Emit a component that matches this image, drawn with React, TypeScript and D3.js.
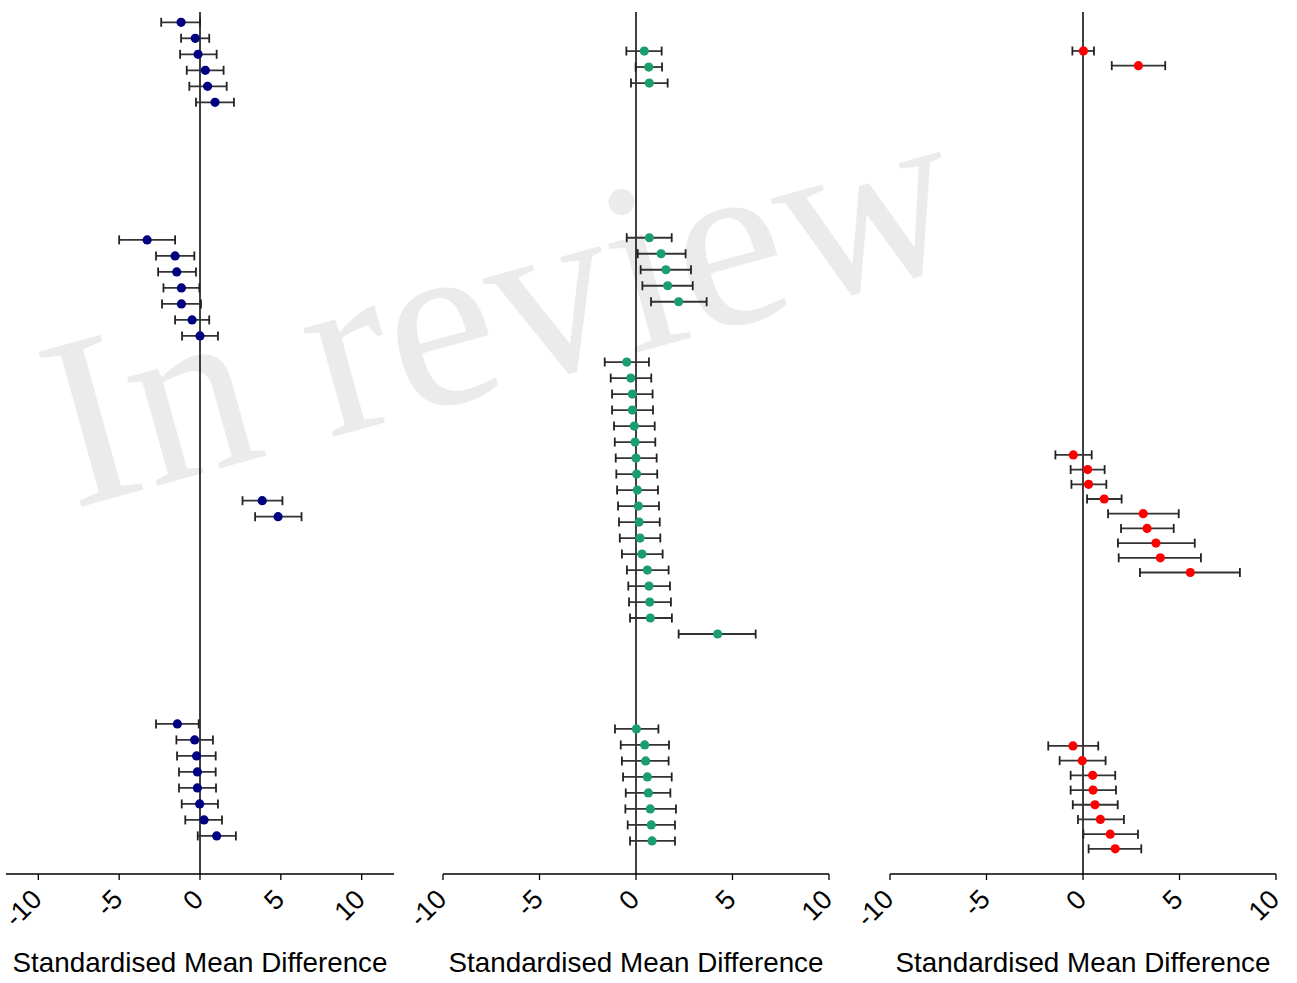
import * as d3 from 'd3';

const TICK_VALUES = [-10, -5, 0, 5, 10];
const TICK_LABELS = ['-10', '-5', '0', '5', '10'];
const AXIS_TITLE = 'Standardised Mean Difference';

// panel 1 (navy)
const navyRows = [0, 1, 2, 3, 4, 5, 13.6, 14.6, 15.6, 16.6, 17.6, 18.6, 19.6, 29.9, 30.9, 43.85, 44.85, 45.85, 46.85, 47.85, 48.85, 49.85, 50.85];
const navyEst = [-1.17, -0.29, -0.12, 0.33, 0.47, 0.93, -3.27, -1.54, -1.44, -1.15, -1.15, -0.49, 0.0, 3.85, 4.83, -1.4, -0.33, -0.21, -0.16, -0.16, -0.02, 0.25, 1.03];
const navyLo = [-2.4, -1.17, -1.23, -0.82, -0.66, -0.25, -5.0, -2.72, -2.59, -2.26, -2.35, -1.54, -1.11, 2.63, 3.41, -2.72, -1.46, -1.42, -1.3, -1.3, -1.13, -0.91, -0.14];
const navyHi = [0.0, 0.57, 1.03, 1.46, 1.65, 2.1, -1.54, -0.35, -0.25, -0.04, 0.06, 0.57, 1.11, 5.1, 6.28, -0.08, 0.8, 0.97, 0.97, 0.99, 1.11, 1.36, 2.22];

// panel 2 (green)
const greenRows = [0, 1, 2, 11.67, 12.67, 13.67, 14.67, 15.67, 19.44, 20.44, 21.44, 22.44, 23.44, 24.44, 25.44, 26.44, 27.44, 28.44, 29.44, 30.44, 31.44, 32.44, 33.44, 34.44, 35.44, 36.44, 42.375, 43.375, 44.375, 45.375, 46.375, 47.375, 48.375, 49.375];
const greenEst = [0.43, 0.66, 0.69, 0.69, 1.3, 1.55, 1.64, 2.21, -0.48, -0.27, -0.19, -0.19, -0.09, -0.05, 0.0, 0.03, 0.07, 0.12, 0.16, 0.21, 0.31, 0.59, 0.67, 0.71, 0.74, 4.23, 0.02, 0.45, 0.5, 0.59, 0.64, 0.74, 0.79, 0.83];
const greenLo = [-0.5, -0.02, -0.26, -0.48, 0.09, 0.24, 0.33, 0.78, -1.62, -1.31, -1.24, -1.24, -1.14, -1.1, -1.05, -1.02, -0.98, -0.93, -0.88, -0.84, -0.73, -0.47, -0.4, -0.36, -0.31, 2.21, -1.09, -0.79, -0.73, -0.67, -0.53, -0.55, -0.43, -0.31];
const greenHi = [1.33, 1.35, 1.64, 1.85, 2.57, 2.85, 2.94, 3.66, 0.67, 0.79, 0.86, 0.88, 0.97, 1.0, 1.07, 1.1, 1.14, 1.19, 1.23, 1.26, 1.38, 1.69, 1.76, 1.81, 1.86, 6.2, 1.16, 1.71, 1.69, 1.85, 1.78, 2.07, 2.02, 2.02];

// panel 3 (red)
const redRows = [0, 1, 27.48, 28.48, 29.48, 30.48, 31.48, 32.48, 33.48, 34.48, 35.48, 47.28, 48.28, 49.28, 50.28, 51.28, 52.28, 53.28, 54.28];
const redEst = [0.02, 2.87, -0.5, 0.24, 0.29, 1.1, 3.12, 3.32, 3.78, 4.01, 5.56, -0.52, -0.04, 0.5, 0.52, 0.62, 0.9, 1.41, 1.67];
const redLo = [-0.55, 1.49, -1.43, -0.64, -0.6, 0.21, 1.3, 1.97, 1.81, 1.85, 2.95, -1.8, -1.21, -0.64, -0.64, -0.53, -0.26, 0.02, 0.29];
const redHi = [0.57, 4.26, 0.45, 1.12, 1.21, 2.0, 4.96, 4.7, 5.79, 6.11, 8.13, 0.79, 1.17, 1.67, 1.71, 1.8, 2.12, 2.85, 3.02];

const TOP = 12;
const BASE = 874;
const FONT = 'Liberation Sans, Arial, Helvetica, sans-serif';

type PanelProps = {
  rows: number[];
  est: number[];
  lo: number[];
  hi: number[];
  color: string;
  xDomain: [number, number];
  xRange: [number, number];
  rowDomain: [number, number];
};

function Panel({ rows, est, lo, hi, color, xDomain, xRange, rowDomain }: PanelProps) {
  const x = d3.scaleLinear().domain(xDomain).range(xRange);
  const y = d3.scaleLinear().domain(rowDomain).range([TOP, BASE]);
  const cap = 4.5;

  return (
    <g>
      {/* zero line */}
      <line x1={x(0)} x2={x(0)} y1={TOP} y2={BASE} stroke="#000" strokeWidth={1.5} />

      {rows.map((r, i) => {
        const yy = y(r);
        return (
          <g key={i}>
            <line x1={x(lo[i])} x2={x(hi[i])} y1={yy} y2={yy} stroke="#333" strokeWidth={1.8} />
            <line x1={x(lo[i])} x2={x(lo[i])} y1={yy - cap} y2={yy + cap} stroke="#222" strokeWidth={1.8} />
            <line x1={x(hi[i])} x2={x(hi[i])} y1={yy - cap} y2={yy + cap} stroke="#222" strokeWidth={1.8} />
            <circle cx={x(est[i])} cy={yy} r={4.6} fill={color} />
          </g>
        );
      })}

      {/* x axis */}
      <line x1={xRange[0]} x2={xRange[1]} y1={BASE} y2={BASE} stroke="#000" strokeWidth={1.3} />
      {TICK_VALUES.map((t, i) => (
        <g key={t}>
          <line x1={x(t)} x2={x(t)} y1={BASE} y2={BASE + 6} stroke="#000" strokeWidth={1.3} />
          <text
            transform={`translate(${x(t) + 5},${BASE + 27}) rotate(-45)`}
            textAnchor="end"
            fontFamily={FONT}
            fontSize={27}
            fill="#000"
          >
            {TICK_LABELS[i]}
          </text>
        </g>
      ))}
      <text x={x(0)} y={972} textAnchor="middle" fontFamily={FONT} fontSize={27.8} fill="#000">
        {AXIS_TITLE}
      </text>
    </g>
  );
}

export default function App() {
  return (
    <div style={{ position: 'absolute', left: 0, top: 0, background: '#fff' }}>
      <svg width={1297} height={983} style={{ display: 'block' }}>
        <rect width={1297} height={983} fill="#fff" />
        <text
          transform="translate(500,305) rotate(-15.5)"
          textAnchor="middle"
          dominantBaseline="central"
          fontFamily="Liberation Serif, Times New Roman, serif"
          fontSize={245}
          fill="#000"
          opacity={0.075}
        >
          In review
        </text>
        <Panel rows={navyRows} est={navyEst} lo={navyLo} hi={navyHi} color="#000080"
          xDomain={[-12, 12]} xRange={[6, 394]} rowDomain={[-0.644, 53.23]} />
        <Panel rows={greenRows} est={greenEst} lo={greenLo} hi={greenHi} color="#1B9E6E"
          xDomain={[-10, 10]} xRange={[443, 829]} rowDomain={[-2.44, 51.44]} />
        <Panel rows={redRows} est={redEst} lo={redLo} hi={redHi} color="#FF0000"
          xDomain={[-10, 10]} xRange={[890, 1276]} rowDomain={[-2.65, 55.99]} />
      </svg>
    </div>
  );
}
